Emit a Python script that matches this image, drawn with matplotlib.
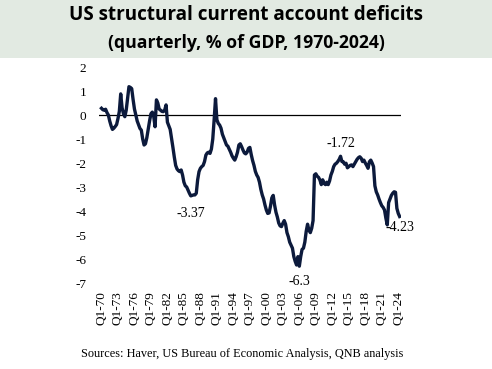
import matplotlib.pyplot as plt
from matplotlib.patches import Rectangle

# quarterly structural current account balance, % of GDP, Q1-1970 .. Q2-2024
balance = [
    0.28, 0.22, 0.20, 0.24, 0.10, 0.00, -0.25, -0.45, -0.60, -0.55,
    -0.48, -0.40, -0.15, 0.15, 0.88, 0.30, 0.05, -0.07, 0.20, 0.70,
    1.18, 1.15, 1.10, 0.65, 0.25, 0.00, -0.25, -0.40, -0.56, -0.63,
    -1.00, -1.25, -1.20, -0.95, -0.60, -0.25, 0.05, 0.12, -0.05, -0.49,
    0.63, 0.50, 0.25, 0.20, 0.15, 0.14, 0.20, 0.42, -0.30, -0.45,
    -0.60, -0.97, -1.35, -1.75, -2.10, -2.25, -2.32, -2.36, -2.29, -2.50,
    -2.80, -2.95, -3.00, -3.13, -3.26, -3.37, -3.35, -3.33, -3.33, -3.26,
    -2.70, -2.36, -2.22, -2.15, -2.10, -1.94, -1.67, -1.58, -1.55, -1.60,
    -1.42, -1.00, -0.20, 0.68, -0.20, -0.35, -0.42, -0.55, -0.80, -0.95,
    -1.10, -1.25, -1.30, -1.42, -1.55, -1.70, -1.80, -1.88, -1.74, -1.55,
    -1.25, -1.20, -1.32, -1.46, -1.58, -1.62, -1.55, -1.39, -1.35, -1.65,
    -1.90, -2.10, -2.35, -2.50, -2.60, -2.80, -3.10, -3.33, -3.50, -3.75,
    -3.96, -4.10, -4.08, -3.80, -3.45, -3.35, -3.75, -4.05, -4.25, -4.50,
    -4.62, -4.65, -4.51, -4.40, -4.55, -4.90, -5.07, -5.30, -5.42, -5.55,
    -5.90, -6.10, -6.25, -5.90, -6.30, -5.90, -5.60, -5.55, -5.30, -4.85,
    -4.55, -4.80, -4.90, -4.72, -4.40, -2.50, -2.45, -2.55, -2.60, -2.71,
    -2.90, -2.70, -2.85, -2.90, -2.80, -2.90, -2.75, -2.50, -2.35, -2.15,
    -2.05, -2.01, -1.94, -1.85, -1.72, -1.94, -1.95, -2.05, -2.01, -2.20,
    -2.15, -2.10, -2.08, -2.15, -2.05, -1.95, -1.85, -1.78, -1.74, -1.80,
    -1.94, -1.88, -2.00, -2.10, -2.22, -1.95, -1.88, -2.00, -2.15, -2.95,
    -3.20, -3.33, -3.50, -3.65, -3.78, -3.85, -3.96, -4.30, -4.58, -3.65,
    -3.50, -3.35, -3.26, -3.20, -3.22, -3.89, -4.10, -4.23,
]

tick_years = list(range(1970, 2025, 3))
tick_labels = [f"Q1-{y % 100:02d}" for y in tick_years]

# (quarter index, label text, vertical offset in points)
callouts = [
    (65, "-3.37", -13),
    (144, "-6.3", -11),
    (174, "-1.72", 9),
    (217, "-4.23", -8),
]

LINE_COLOR = "#0c1a3c"
SERIF = "Liberation Serif"

fig = plt.figure(figsize=(4.92, 3.69), dpi=100)
fig.patch.set_facecolor("white")
fig.patches.append(
    Rectangle((0, 1 - 58 / 369), 1, 58 / 369, transform=fig.transFigure,
              facecolor="#e2eae2", edgecolor="none", zorder=0)
)
fig.text(0.5, 1 - 15 / 369, "US structural current account deficits",
         ha="center", va="center", fontsize=13.6, fontweight="bold",
         family="Open Sans")
fig.text(0.5, 1 - 43 / 369, "(quarterly, % of GDP, 1970-2024)",
         ha="center", va="center", fontsize=12.7, fontweight="bold",
         family="Open Sans")

ax = fig.add_axes([99 / 492, 1 - 283 / 369, 302 / 492, 216 / 369])
ax.set_facecolor("none")

x = list(range(len(balance)))
ax.axhline(0, color="black", lw=0.9, zorder=1)
ax.plot(x, balance, color=LINE_COLOR, lw=2.4, solid_joinstyle="round",
        zorder=2)

for idx, text, dy in callouts:
    ax.annotate(text, (x[idx], balance[idx]), xytext=(0, dy),
                textcoords="offset points", ha="center", va="center",
                fontsize=10, family=SERIF)

ax.set_xlim(-1.8, 218)
ax.set_ylim(-7, 2)
ax.set_yticks(range(-7, 3))
ax.set_yticklabels([str(v) for v in range(-7, 3)])
ax.set_xticks([(y - 1970) * 4 for y in tick_years])
ax.set_xticklabels(tick_labels, rotation=90)

for spine in ax.spines.values():
    spine.set_visible(False)
ax.tick_params(axis="both", length=0, labelsize=9.5)
ax.tick_params(axis="y", pad=9)
ax.tick_params(axis="x", pad=6)
for lab in ax.get_xticklabels() + ax.get_yticklabels():
    lab.set_family(SERIF)

fig.text(0.492, 1 - 354 / 369,
         "Sources: Haver, US Bureau of Economic Analysis, QNB analysis",
         ha="center", va="center", fontsize=8.8, family=SERIF)

fig.savefig("out.png", dpi=100)
